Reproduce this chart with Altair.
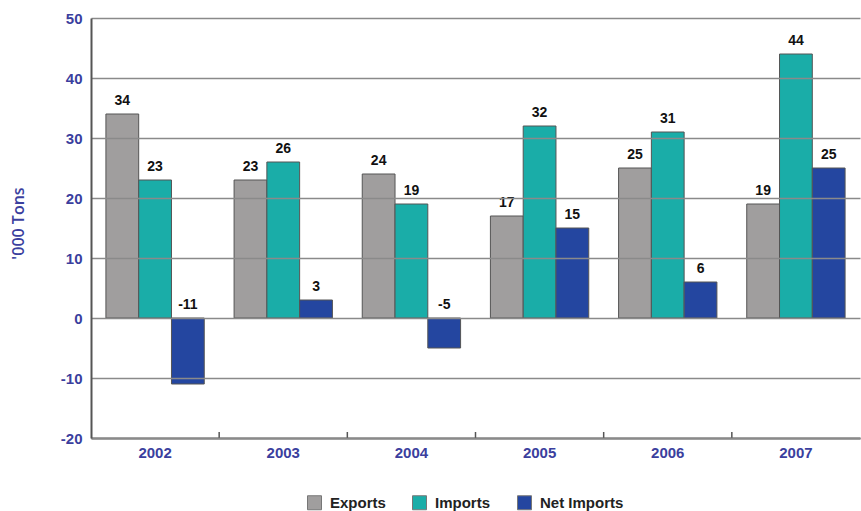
import altair as alt
import pandas as pd

years = ["2002", "2003", "2004", "2005", "2006", "2007"]
exports = [34, 23, 24, 17, 25, 19]
imports = [23, 26, 19, 32, 31, 44]
net_imports = [-11, 3, -5, 15, 6, 25]
series = ["Exports", "Imports", "Net Imports"]
colors = ["#A09E9E", "#1AADA8", "#2446A0"]
y_ticks = [-20, -10, 0, 10, 20, 30, 40, 50]

rows = []
for name, vals in zip(series, [exports, imports, net_imports]):
    for yr, v in zip(years, vals):
        rows.append({"year": yr, "series": name, "value": v})
df = pd.DataFrame(rows)
tick_df = pd.DataFrame({"year": years[1:]})

AXIS_BLUE = "#3B3F9E"
FONT = "Liberation Sans"

x_enc = alt.X(
    "year:N", sort=years,
    scale=alt.Scale(paddingInner=0, paddingOuter=0),
    axis=alt.Axis(title=None, ticks=False, grid=False, domainColor="#555555",
                  domainWidth=2, labelColor=AXIS_BLUE, labelFont=FONT,
                  labelFontWeight="bold", labelFontSize=15, labelPadding=7,
                  labelAngle=0),
)
xoff_enc = alt.XOffset("series:N", sort=series,
                       scale=alt.Scale(paddingOuter=0.455, paddingInner=0))
y_enc = alt.Y(
    "value:Q",
    scale=alt.Scale(domain=[-20, 50], nice=False),
    axis=alt.Axis(values=y_ticks, title="'000 Tons", grid=True,
                  gridColor="#8A8A8A", gridWidth=1.5, ticks=False,
                  domainColor="#555555", domainWidth=2, labelColor=AXIS_BLUE,
                  labelFont=FONT, labelFontWeight="bold", labelFontSize=15,
                  labelPadding=9, labelExpr="'' + datum.value", zindex=1,
                  titleFont="Open Sans", titleFontWeight=600,
                  titleFontSize=16, titleColor=AXIS_BLUE,
                  titleX=-73, titleY=205, titleAngle=270, titleAlign="center",
                  titleBaseline="middle"),
)

bars = alt.Chart(df).mark_bar(stroke="#555555", strokeWidth=1).encode(
    x=x_enc,
    xOffset=xoff_enc,
    y=y_enc,
    y2=alt.datum(0),
    color=alt.Color(
        "series:N",
        scale=alt.Scale(domain=series, range=colors),
        legend=alt.Legend(title=None, orient="none", legendX=216, legendY=477,
                          direction="horizontal", symbolType="square",
                          symbolSize=196, symbolStrokeColor="#777777",
                          symbolStrokeWidth=1, labelFontSize=15,
                          labelFontWeight="bold", labelFont=FONT,
                          labelColor="#222222", columnPadding=24, labelOffset=8),
    ),
)

labels = alt.Chart(df).transform_calculate(
    label_pos="max(datum.value, 0)",
    label_txt="'' + datum.value",
).mark_text(dy=-6, baseline="bottom", fontWeight="bold", fontSize=14,
            font=FONT, color="#111111").encode(
    x=alt.X("year:N", sort=years),
    xOffset=alt.XOffset("series:N", sort=series),
    y=alt.Y("label_pos:Q"),
    text=alt.Text("label_txt:N"),
)

ticks = alt.Chart(tick_df).mark_rule(color="#555555", strokeWidth=1.5).encode(
    x=alt.X("year:N", sort=years, bandPosition=0),
    y=alt.value(414),
    y2=alt.value(420),
)

chart = alt.layer(bars, labels, ticks).properties(
    width=769, height=420,
    autosize=alt.AutoSizeParams(type="none"),
    padding={"left": 91, "top": 18, "right": 1, "bottom": 73},
).configure_view(strokeWidth=0)

chart.save("out.html", embed_options={"renderer": "svg", "actions": False})
